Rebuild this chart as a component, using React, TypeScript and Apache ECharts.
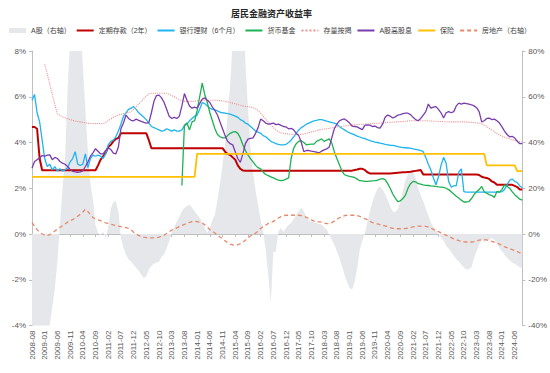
import React, { useEffect, useRef } from "react";
import * as echarts from "echarts";

// Months 2008-08 … 2024-09
const months: string[] = [];
{
  let y = 2008;
  let m = 8;
  while (true) {
    months.push(`${y}-${String(m).padStart(2, "0")}`);
    if (y === 2024 && m === 9) break;
    m++;
    if (m > 12) { m = 1; y++; }
  }
}

const leftTicks = [-4, -2, 0, 2, 4, 6, 8];
const rightTicks = [-40, -20, 0, 20, 40, 60, 80];

// A股（右轴）
const stockYoY: number[] = [
  -55, -60, -65, -62, -58,
  -52, -47, -40, -32, -23.6, -12, 4, 20, 32, 63, 85, 100,
  108, 105, 95, 74, 55, 36, 22, 15, 4, 0.5, -0.5, 1,
  -2, 3, 11, 14, 14.3, 9.9, -1.7, -6, -9, -11, -12, -13.5,
  -14.8, -16, -17.8, -19.2, -18.5, -15.5, -14, -13, -12.5, -12, -10, -9,
  -6.1, -3.2, 0.4, 3, 5.5, 7.5, 9.9, 11.5, 12.1, 12.8, 11.5, 9.9,
  8.5, 7, 5, 2.6, 0.4, 2.6, 6, 8.4, 15, 22, 30, 40,
  52, 65, 85, 105, 125, 130, 115, 75, 55, 38, 27, 19,
  12.7, 6, 1, -7, -18, -30, -8, -7.6, 1.2, 2.6, 1, 2.6,
  4, 4.8, 6.5, 8.4, 10, 11.6, 9.9, 7.5, 6, 5.5, 5, 4.8,
  4.4, 4.1, 3, 1.9, -0.3, -2.5, -4.7, -7.5, -10.5, -14, -17.8, -21,
  -23.6, -24.3, -21, -15, -7, -3, 0, 5, 10, 14, 17.2, 20,
  20.8, 19.5, 17.5, 15, 12, 10, 9.5, 11, 14, 19, 23.5, 26.5,
  27.5, 27, 24.5, 20, 17, 14.3, 11, 8, 5, 3, 1.5, 0,
  -1.5, -3, -5, -6.5, -8, -9.5, -11, -12, -13.4, -14.5, -15.5, -15.3,
  -14.5, -10.5, -7.5, -4.5, -2.5, -3.5, -3.2, -2.5, -1.7, -2.5, -4, -6.1,
  -7.5, -9, -10.5, -11.5, -12.5, -13, -13.8, -14.5, -15,
];

// 定期存款（2年）
const deposit: number[] = [
  4.68, 4.68, 4.6, 3.3, 2.79,
  2.79, 2.79, 2.79, 2.79, 2.79, 2.79, 2.79, 2.79, 2.79, 2.79, 2.79, 2.79,
  2.79, 2.79, 2.79, 2.79, 2.79, 2.79, 2.79, 2.79, 2.79, 3.0, 3.25, 3.4,
  3.55, 3.8, 3.9, 4.05, 4.15, 4.2, 4.4, 4.4, 4.4, 4.4, 4.4, 4.4,
  4.4, 4.4, 4.4, 4.4, 4.4, 4.1, 3.75, 3.75, 3.75, 3.75, 3.75, 3.75,
  3.75, 3.75, 3.75, 3.75, 3.75, 3.75, 3.75, 3.75, 3.75, 3.75, 3.75, 3.75,
  3.75, 3.75, 3.75, 3.75, 3.75, 3.75, 3.75, 3.75, 3.75, 3.75, 3.75, 3.6,
  3.5, 3.45, 3.35, 3.25, 3.0, 2.85, 2.78, 2.77, 2.77, 2.77, 2.77, 2.77,
  2.77, 2.77, 2.77, 2.77, 2.77, 2.77, 2.77, 2.77, 2.77, 2.77, 2.77, 2.77,
  2.77, 2.77, 2.77, 2.77, 2.77, 2.77, 2.77, 2.77, 2.77, 2.77, 2.77, 2.77,
  2.77, 2.77, 2.77, 2.77, 2.77, 2.77, 2.77, 2.77, 2.77, 2.77, 2.77, 2.77,
  2.77, 2.77, 2.8, 2.82, 2.85, 2.85, 2.8, 2.7, 2.65, 2.65, 2.64, 2.64,
  2.64, 2.64, 2.64, 2.64, 2.65, 2.66, 2.67, 2.68, 2.69, 2.7, 2.7, 2.71,
  2.72, 2.74, 2.76, 2.78, 2.8, 2.6, 2.6, 2.6, 2.6, 2.6, 2.6, 2.6,
  2.6, 2.6, 2.6, 2.6, 2.6, 2.6, 2.6, 2.6, 2.6, 2.6, 2.6, 2.6,
  2.6, 2.6, 2.6, 2.58, 2.5, 2.47, 2.45, 2.4, 2.3, 2.25, 2.15, 2.15,
  2.15, 2.15, 2.15, 2.15, 2.15, 2.1, 2.05, 1.95, 1.95,
];

// 银行理财（6个月）
const wealthMgmt: number[] = [
  5.85, 6.1, 5.3, 4.9, 4.1,
  3.3, 2.95, 3.05, 2.8, 2.95, 2.75, 2.85, 2.75, 2.8, 2.9, 3.15, 3.3,
  3.6, 3.05, 3.0, 3.05, 3.5, 2.9, 3.3, 3.45, 3.4, 3.45, 3.4, 3.3,
  3.5, 3.9, 4.05, 4.1, 4.25, 4.5, 4.8, 5.15, 5.3, 5.45, 5.5, 5.57,
  5.45, 5.3, 5.2, 5.1, 5.0, 4.85, 4.7, 4.65, 4.6, 4.55, 4.5, 4.52,
  4.6, 4.55, 4.5, 4.55, 4.5, 4.5, 4.55, 4.74, 4.8, 4.95, 5.05, 5.15,
  5.2, 5.45, 5.75, 5.7, 5.6, 5.5, 5.45, 5.43, 5.38, 5.33, 5.3, 5.28,
  5.26, 5.24, 5.2, 5.15, 5.1, 5.0, 4.95, 4.85, 4.8, 4.7, 4.6, 4.5,
  4.45, 4.4, 4.3, 4.25, 4.15, 4.05, 4.0, 3.95, 3.92, 3.9, 3.9, 3.92,
  4.0, 4.1, 4.25, 4.4, 4.55, 4.65, 4.72, 4.8, 4.85, 4.9, 4.95, 4.97,
  5.0, 5.0, 4.97, 4.93, 4.9, 4.87, 4.85, 4.8, 4.7, 4.62, 4.55, 4.48,
  4.42, 4.38, 4.33, 4.28, 4.24, 4.2, 4.17, 4.13, 4.08, 4.05, 4.02, 4.0,
  3.97, 3.95, 3.92, 3.9, 3.88, 3.87, 3.85, 3.82, 3.8, 3.78, 3.77, 3.76,
  3.75, 3.72, 3.7, 3.68, 3.65, 3.6, 3.35, 3.05, 2.8, 2.45, 2.15, 2.5,
  3.0, 3.35, 3.1, 2.3, 2.05, 2.1, 2.12, 2.7, 2.85, 1.85, 1.83, 1.83,
  1.83, 1.83, 1.83, 1.83, 1.83, 1.83, 1.83, 1.83, 1.83, 1.83, 1.83, 1.83,
  1.85, 1.95, 2.15, 2.35, 2.4, 2.3, 2.25, 2.1, 2.02,
];

// 货币基金
const moneyFund: (number | null)[] = [
  null, null, null, null, null,
  null, null, null, null, null, null, null, null, null, null, null, null,
  null, null, null, null, null, null, null, null, null, null, null, null,
  null, null, null, null, null, null, null, null, null, null, null, null,
  null, null, null, null, null, null, null, null, null, null, null, null,
  null, null, null, null, null, null, 2.12, 4.75, 4.85, 4.55, 4.9, 4.95,
  5.4, 6.0, 6.6, 6.1, 5.75, 5.3, 4.95, 4.6, 4.35, 4.25, 4.2, 4.2,
  4.3, 4.4, 4.45, 4.48, 4.4, 4.2, 3.9, 3.65, 3.45, 3.3, 3.15, 3.0,
  2.9, 2.85, 2.7, 2.6, 2.55, 2.5, 2.45, 2.4, 2.36, 2.33, 2.35, 2.4,
  2.45, 3.3, 3.75, 3.95, 4.05, 4.08, 4.0, 3.9, 3.92, 3.93, 3.93, 4.05,
  4.1, 4.16, 4.05, 4.1, 4.16, 3.97, 3.6, 3.3, 3.03, 2.75, 2.59, 2.55,
  2.52, 2.5, 2.47, 2.4, 2.33, 2.32, 2.3, 2.3, 2.31, 2.32, 2.33, 2.35,
  2.4, 2.42, 2.38, 2.2, 2.0, 1.75, 1.57, 1.42, 1.45, 1.55, 1.7, 2.0,
  2.2, 2.3, 2.28, 2.2, 2.18, 2.15, 2.13, 2.12, 2.1, 2.09, 2.08, 2.06,
  2.05, 2.04, 2.0, 1.94, 1.85, 1.75, 1.65, 1.57, 1.48, 1.4, 1.4, 1.42,
  1.55, 1.72, 1.85, 1.94, 2.08, 1.85, 1.78, 1.72, 1.68, 1.6, 1.86, 1.83,
  1.95, 2.15, 2.08, 2.0, 1.85, 1.72, 1.62, 1.52, 1.48,
];

// 存量按揭
const mortgage: (number | null)[] = [
  null, null, null, null, null,
  7.42, 7.0, 6.55, 6.1, 5.65, 5.25, 5.18, 5.12, 5.08, 5.04, 5.0, 4.97,
  4.94, 4.92, 4.9, 4.88, 4.86, 4.84, 4.83, 4.83, 4.83, 4.83, 4.83, 4.83,
  4.88, 4.95, 5.02, 5.1, 5.15, 5.2, 5.23, 5.26, 5.28, 5.31, 5.34, 5.45,
  5.57, 5.68, 5.8, 5.92, 6.03, 6.12, 6.15, 6.15, 6.15, 6.15, 6.15, 6.15,
  6.15, 6.1, 6.05, 6.0, 5.93, 5.87, 5.82, 5.8, 5.8, 5.8, 5.8, 5.8,
  5.82, 5.83, 5.84, 5.85, 5.85, 5.85, 5.85, 5.85, 5.84, 5.83, 5.82, 5.8,
  5.78, 5.75, 5.72, 5.69, 5.66, 5.63, 5.6, 5.58, 5.56, 5.55, 5.52, 5.48,
  5.4, 5.28, 5.15, 5.02, 4.9, 4.78, 4.65, 4.55, 4.47, 4.42, 4.4, 4.38,
  4.37, 4.36, 4.35, 4.35, 4.35, 4.35, 4.37, 4.4, 4.43, 4.46, 4.49, 4.52,
  4.55, 4.57, 4.59, 4.6, 4.62, 4.64, 4.66, 4.68, 4.69, 4.7, 4.72, 4.73,
  4.75, 4.76, 4.77, 4.78, 4.79, 4.8, 4.8, 4.81, 4.82, 4.83, 4.84, 4.84,
  4.85, 4.86, 4.87, 4.88, 4.88, 4.89, 4.9, 4.9, 4.91, 4.92, 4.93, 4.94,
  4.95, 4.95, 4.95, 4.95, 4.95, 4.95, 4.95, 4.94, 4.94, 4.93, 4.93, 4.92,
  4.92, 4.91, 4.91, 4.9, 4.9, 4.9, 4.9, 4.9, 4.9, 4.9, 4.89, 4.89,
  4.88, 4.87, 4.86, 4.84, 4.82, 4.76, 4.7, 4.62, 4.55, 4.47, 4.4, 4.33,
  4.28, 4.24, 4.2, 4.16, 4.12, 4.09, 4.06, 4.03, 4.02,
];

// A股高股息
const highDividend: number[] = [
  2.87, 3.17, 3.25, 3.32, 3.43,
  3.4, 3.45, 3.46, 3.25, 3.35, 3.3, 3.17, 3.1, 3.05, 2.95, 2.82, 2.74,
  2.72, 2.7, 2.72, 2.76, 2.95, 3.15, 3.4, 3.55, 3.73, 3.62, 3.5, 3.5,
  3.65, 3.76, 3.7, 3.54, 3.5, 3.8, 4.6, 4.85, 5.2, 5.05, 4.97, 4.95,
  5.02, 4.97, 4.92, 4.88, 4.85, 4.87, 5.3, 5.8, 6.05, 6.07, 5.95, 5.75,
  5.45, 5.15, 5.05, 5.1, 5.05, 5.15, 5.6, 6.14, 5.85, 5.6, 5.5, 5.55,
  5.5, 5.7, 5.9, 5.95, 5.85, 5.75, 5.55, 5.4, 5.2, 4.9, 4.6, 4.3,
  4.05, 3.95, 3.9, 3.6, 3.3, 3.13, 3.5, 3.95, 4.15, 4.18, 4.2, 4.4,
  4.65, 5.02, 4.95, 4.85, 4.8, 4.82, 4.85, 4.78, 4.8, 4.75, 4.7, 4.68,
  4.6, 4.62, 4.55, 4.4, 4.3, 4.0, 3.6, 3.65, 3.65, 3.62, 3.6, 3.58,
  3.55, 3.62, 3.68, 3.72, 3.8, 4.2, 4.6, 4.8, 4.95, 5.0, 5.03, 4.95,
  4.85, 4.72, 4.7, 4.68, 4.62, 4.56, 4.75, 4.77, 4.76, 4.7, 4.72, 4.65,
  4.63, 4.8, 5.1, 5.2, 5.15, 5.07, 5.12, 5.2, 5.22, 5.26, 5.28, 5.28,
  5.22, 5.1, 5.0, 4.95, 5.05, 5.2, 5.35, 5.68, 5.5, 5.55, 5.57, 5.45,
  5.3, 5.07, 5.3, 5.35, 5.3, 5.35, 5.6, 5.72, 5.68, 5.72, 5.7, 5.68,
  5.65, 5.6, 5.52, 5.35, 4.9, 4.95, 5.05, 5.07, 5.0, 5.02, 4.95, 4.85,
  4.68, 4.5, 4.35, 4.25, 4.27, 4.2, 4.05, 3.95, 3.95,
];

// 保险
const insurance: number[] = [
  2.5, 2.5, 2.5, 2.5, 2.5,
  2.5, 2.5, 2.5, 2.5, 2.5, 2.5, 2.5, 2.5, 2.5, 2.5, 2.5, 2.5,
  2.5, 2.5, 2.5, 2.5, 2.5, 2.5, 2.5, 2.5, 2.5, 2.5, 2.5, 2.5,
  2.5, 2.5, 2.5, 2.5, 2.5, 2.5, 2.5, 2.5, 2.5, 2.5, 2.5, 2.5,
  2.5, 2.5, 2.5, 2.5, 2.5, 2.5, 2.5, 2.5, 2.5, 2.5, 2.5, 2.5,
  2.5, 2.5, 2.5, 2.5, 2.5, 2.5, 2.5, 2.5, 2.5, 2.5, 2.5, 2.5,
  3.5, 3.5, 3.5, 3.5, 3.5, 3.5, 3.5, 3.5, 3.5, 3.5, 3.5, 3.5,
  3.5, 3.5, 3.5, 3.5, 3.5, 3.5, 3.5, 3.5, 3.5, 3.5, 3.5, 3.5,
  3.5, 3.5, 3.5, 3.5, 3.5, 3.5, 3.5, 3.5, 3.5, 3.5, 3.5, 3.5,
  3.5, 3.5, 3.5, 3.5, 3.5, 3.5, 3.5, 3.5, 3.5, 3.5, 3.5, 3.5,
  3.5, 3.5, 3.5, 3.5, 3.5, 3.5, 3.5, 3.5, 3.5, 3.5, 3.5, 3.5,
  3.5, 3.5, 3.5, 3.5, 3.5, 3.5, 3.5, 3.5, 3.5, 3.5, 3.5, 3.5,
  3.5, 3.5, 3.5, 3.5, 3.5, 3.5, 3.5, 3.5, 3.5, 3.5, 3.5, 3.5,
  3.5, 3.5, 3.5, 3.5, 3.5, 3.5, 3.5, 3.5, 3.5, 3.5, 3.5, 3.5,
  3.5, 3.5, 3.5, 3.5, 3.5, 3.5, 3.5, 3.5, 3.5, 3.5, 3.5, 3.5,
  3.5, 3.5, 3.5, 3.5, 3.5, 3.5, 3.0, 3.0, 3.0, 3.0, 3.0, 3.0,
  3.0, 3.0, 3.0, 3.0, 3.0, 3.0, 2.75, 2.75, 2.75,
];

// 房地产（右轴）
const realEstate: number[] = [
  5.0, 3.5, 1.9, 0.8, 0.0,
  -0.4, -0.6, -0.3, 0.4, 1.3, 2.1, 2.8, 3.6, 4.4, 5.2, 5.8, 6.3,
  7.0, 7.8, 8.6, 9.6, 10.8, 9.8, 8.4, 7.2, 6.6, 6.2, 5.8, 5.3,
  4.9, 4.6, 4.3, 4.0, 3.7, 3.4, 3.2, 3.0, 2.8, 2.4, 1.8, 0.8,
  0.0, -0.6, -1.1, -1.4, -1.6, -1.7, -1.7, -1.7, -1.6, -1.4, -1.0, -0.5,
  0.2, 1.0, 1.7, 2.2, 2.7, 3.2, 3.7, 4.2, 4.7, 5.1, 5.4, 5.5,
  5.4, 5.2, 4.8, 4.0, 3.0, 2.0, 1.2, 0.4, -0.5, -1.3, -2.0, -3.0,
  -3.8, -4.4, -4.8, -4.9, -4.7, -4.2, -3.6, -2.7, -1.7, -0.9, -0.2, 0.4,
  1.3, 2.4, 3.2, 3.9, 4.6, 5.0, 5.5, 6.3, 7.0, 7.6, 8.0, 8.2,
  8.2, 8.3, 8.2, 8.2, 8.2, 8.0, 7.7, 7.3, 6.8, 6.2, 5.6, 5.4,
  5.3, 5.2, 4.8, 4.5, 4.5, 5.0, 5.6, 6.4, 7.1, 7.6, 8.0, 8.2,
  8.2, 8.2, 8.2, 8.0, 7.7, 7.2, 6.7, 6.3, 5.5, 5.0, 4.8, 4.4,
  4.1, 3.8, 3.5, 3.3, 2.8, 2.5, 2.3, 2.3, 2.3, 2.3, 2.4, 2.6,
  2.9, 3.1, 3.3, 3.4, 3.4, 3.3, 3.3, 3.0, 2.6, 2.0, 1.5, 1.0,
  0.5, -0.1, -0.5, -1.0, -1.6, -2.1, -2.5, -2.9, -3.2, -3.4, -3.5, -3.5,
  -3.5, -3.3, -3.0, -2.7, -2.5, -2.5, -2.6, -2.9, -3.2, -3.6, -4.0, -4.4,
  -5.0, -5.6, -6.0, -6.4, -6.8, -7.2, -7.7, -8.2, -8.5,
];

const FONT = "'Liberation Sans', 'Noto Sans CJK SC', sans-serif";
const AXIS_GRAY = "#BFBFBF";
const LABEL_GRAY = "#595959";
const STOCK_GRAY = "#E6E7EB";

function buildOption(): echarts.EChartsOption {
  const yAxisCommon = {
    type: "value" as const,
    axisLine: { show: true, lineStyle: { color: AXIS_GRAY, width: 1 } },
    axisTick: { show: true, length: 3, lineStyle: { color: AXIS_GRAY } },
    splitLine: { show: false },
    axisLabel: { fontSize: 8, color: LABEL_GRAY, margin: 6, formatter: "{value}%" },
  };
  const lineSeries = (name: string, data: (number | null)[], color: string, width: number, type: any = "solid", yAxisIndex = 0, z = 3) => ({
    name,
    type: "line" as const,
    data,
    yAxisIndex,
    xAxisIndex: 0,
    symbol: "none",
    showSymbol: false,
    z,
    itemStyle: { color },
    lineStyle: { color, width, type },
  });
  const hiddenSym = { opacity: 0 };
  return {
    animation: false,
    textStyle: { fontFamily: FONT },
    title: {
      text: "居民金融资产收益率",
      left: 226,
      top: 4,
      textStyle: { fontSize: 9, fontWeight: "bold", color: "#262626", fontFamily: FONT },
    },
    legend: {
      left: 4,
      top: 22,
      itemWidth: 17,
      itemHeight: 5,
      itemGap: 5,
      textStyle: { fontSize: 7, color: "#404040", fontFamily: FONT },
      data: [
        { name: "A股（右轴）", icon: "rect", itemStyle: { color: STOCK_GRAY, opacity: 1 } },
        { name: "定期存款（2年）", itemStyle: hiddenSym },
        { name: "银行理财（6个月）", itemStyle: hiddenSym },
        { name: "货币基金", itemStyle: hiddenSym },
        { name: "存量按揭", itemStyle: hiddenSym },
        { name: "A股高股息", itemStyle: hiddenSym },
        { name: "保险", itemStyle: hiddenSym },
        { name: "房地产（右轴）", itemStyle: hiddenSym },
      ],
    },
    grid: { left: 32, right: 25.5, top: 51, bottom: 47.5, containLabel: false },
    xAxis: [
      {
        type: "category",
        data: months,
        boundaryGap: false,
        position: "bottom",
        axisLine: { show: false, onZero: false },
        axisTick: { show: false },
        splitLine: { show: false },
        axisLabel: { interval: 4, rotate: 90, fontSize: 8, color: LABEL_GRAY, margin: 5 },
      },
      {
        type: "category",
        data: months,
        boundaryGap: false,
        position: "bottom",
        axisLine: { show: true, onZero: true, onZeroAxisIndex: 0, lineStyle: { color: AXIS_GRAY } },
        axisTick: { show: true, interval: 4, length: 3, lineStyle: { color: AXIS_GRAY } },
        axisLabel: { show: false },
        splitLine: { show: false },
      },
    ],
    yAxis: [
      { ...yAxisCommon, position: "left", min: leftTicks[0], max: leftTicks[leftTicks.length - 1], interval: 2 },
      { ...yAxisCommon, position: "right", min: rightTicks[0], max: rightTicks[rightTicks.length - 1], interval: 20 },
    ],
    series: [
      {
        name: "A股（右轴）",
        type: "line",
        data: stockYoY,
        yAxisIndex: 1,
        xAxisIndex: 0,
        symbol: "none",
        showSymbol: false,
        z: 1,
        itemStyle: { color: STOCK_GRAY },
        lineStyle: { width: 0, color: STOCK_GRAY },
        areaStyle: { color: STOCK_GRAY, opacity: 1 },
      },
      lineSeries("定期存款（2年）", deposit, "#C00000", 2),
      lineSeries("银行理财（6个月）", wealthMgmt, "#1FB4F0", 1.3),
      lineSeries("货币基金", moneyFund, "#1DB152", 1.3),
      lineSeries("存量按揭", mortgage, "#EE9090", 1.1, "dotted"),
      lineSeries("A股高股息", highDividend, "#7A3DAE", 1.3),
      lineSeries("保险", insurance, "#FFC000", 1.8),
      lineSeries("房地产（右轴）", realEstate, "#E5896B", 1.3, [4, 3], 1),
    ],
  } as echarts.EChartsOption;
}

export default function App() {
  const ref = useRef<HTMLDivElement>(null);
  useEffect(() => {
    if (!ref.current) return;
    const chart = echarts.init(ref.current, null, { renderer: "svg" });
    chart.setOption(buildOption());
    return () => chart.dispose();
  }, []);
  return (
    <div
      ref={ref}
      style={{ position: "absolute", left: 0, top: 0, width: 550, height: 373, background: "#fff" }}
    />
  );
}
